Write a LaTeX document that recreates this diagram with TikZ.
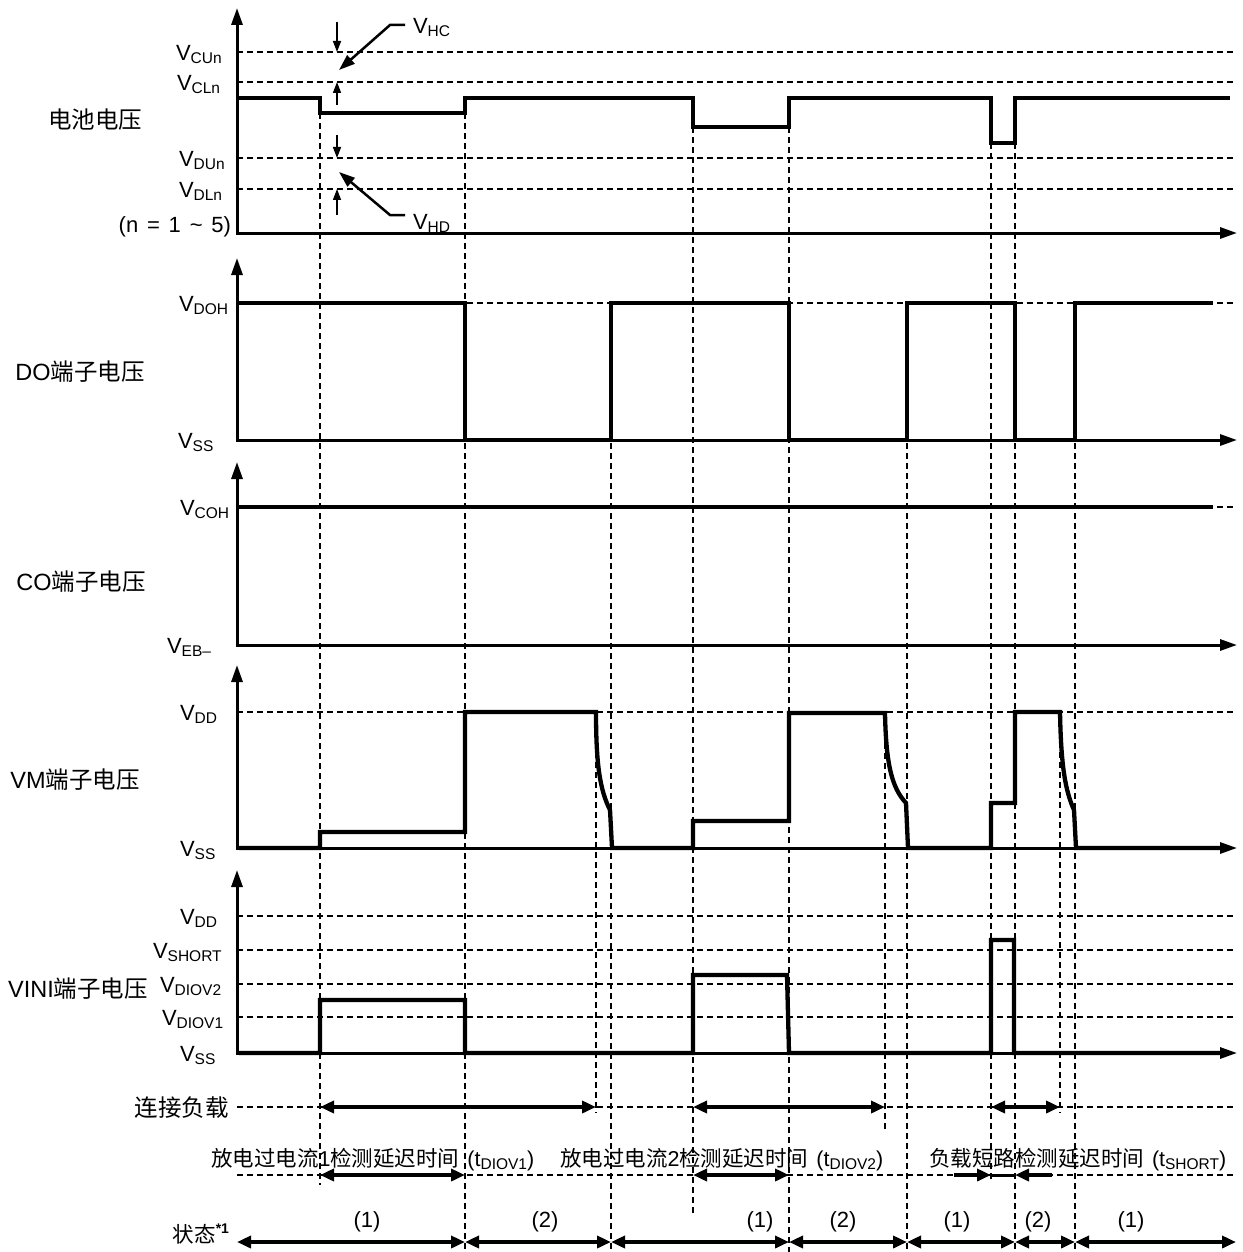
\documentclass[tikz,border=0pt]{standalone}
\usepackage{fontspec}
\setmainfont{Liberation Sans}
\newfontfamily\cjk{Noto Sans CJK SC}
\usetikzlibrary{arrows.meta}
\newcommand\sbs[1]{\raisebox{-3pt}{\fontsize{15.5}{15.5}\selectfont #1}}
\newcommand\cn[1]{{\cjk #1}}
\begin{document}
\begin{tikzpicture}[x=1pt,y=-1pt,
  every node/.style={inner sep=0pt,outer sep=0pt,font=\fontsize{22}{26}\selectfont},
  lbl/.style={font=\fontsize{23.5}{27}\selectfont},
  btm/.style={font=\fontsize{21.5}{25}\selectfont},
  vlab/.style={anchor=base west},
  sig/.style={line width=4.3pt},
  axisline/.style={line width=3pt,{Triangle[length=17pt,width=11pt]}-{Triangle[length=17pt,width=11pt]}},
  dsh/.style={line width=1.6pt,dash pattern=on 6pt off 4pt},
  dbl/.style={line width=4pt,{Triangle[length=14pt,width=12pt]}-{Triangle[length=14pt,width=12pt]}},
  sgl/.style={line width=4pt,-{Triangle[length=14pt,width=12pt]}},
  thinarr/.style={line width=1.5pt,-{Triangle[length=11pt,width=8pt]}},
  leader/.style={line width=2.5pt,-{Triangle[length=16pt,width=11pt]}}
]
\useasboundingbox (0,0) rectangle (1242,1252);

% horizontal dashed levels
\foreach \yy in {52,82,158,189,303,507,712,916,950,984,1017,1107,1175}
  \draw[dsh] (237,\yy) -- (1236,\yy);

% vertical dashed markers
\foreach \xx/\ya/\yb in {320/113/1185,465/113/1252,596/712/1113,611/303/1252,693/127/1213,789/127/1252,885/713/1130,907/303/1252,991/143/1182,1015/143/1252,1060/712/1113,1075/303/1252}
  \draw[dsh] (\xx,\ya) -- (\xx,\yb);

% axes
\draw[axisline] (237,8) -- (237,233) -- (1237,233);
\draw[axisline] (237,258) -- (237,440) -- (1237,440);
\draw[axisline] (237,462) -- (237,645) -- (1237,645);
\draw[axisline] (237,665) -- (237,848) -- (1237,848);
\draw[axisline] (237,870) -- (237,1053) -- (1237,1053);

% signals
\draw[sig] (239,98) -- (320,98) -- (320,113) -- (465,113) -- (465,98) -- (693,98) -- (693,127) -- (789,127) -- (789,98) -- (991,98) -- (991,143) -- (1015,143) -- (1015,98) -- (1230,98);
\draw[sig] (239,303) -- (465,303) -- (465,440) -- (611,440) -- (611,303) -- (789,303) -- (789,440) -- (907,440) -- (907,303) -- (1015,303) -- (1015,440) -- (1075,440) -- (1075,303) -- (1213,303);
\draw[sig] (239,507) -- (1213,507);
\draw[sig] (239,848) -- (320,848) -- (320,832) -- (465,832) -- (465,712) -- (596,712) .. controls (596,765) and (600,790) .. (610,810) -- (612,848) -- (693,848) -- (693,821) -- (789,821) -- (789,713) -- (885,713) .. controls (886,765) and (892,788) .. (906,803) -- (908,848) -- (991,848) -- (991,803) -- (1015,803) -- (1015,712) -- (1060,712) .. controls (1061,765) and (1065,790) .. (1074,810) -- (1076,848) -- (1226,848);
\draw[sig] (239,1053) -- (320,1053) -- (320,1000) -- (465,1000) -- (465,1053) -- (693,1053) -- (693,975) -- (787,975) -- (789,1053) -- (991,1053) -- (991,940) -- (1014,940) -- (1014,1053) -- (1226,1053);

% VHC / VHD
\draw[thinarr] (337,22) -- (337,52);
\draw[thinarr] (337,105) -- (337,82);
\draw[thinarr] (337,135) -- (337,158);
\draw[thinarr] (337,215) -- (337,189);
\draw[leader] (405,25) -- (390,25) -- (339,70);
\draw[leader] (405,215) -- (390,215) -- (339,172);
\node[vlab] (vhc) at (413,34) {V\sbs{HC}};
\node[vlab] (vhd) at (413,229) {V\sbs{HD}};

% level labels
\node[vlab] (vcun) at (176,60.5) {V\sbs{CUn}};
\node[vlab] (vcln) at (177,90.5) {V\sbs{CLn}};
\node[vlab] (vdun) at (179,166.5) {V\sbs{DUn}};
\node[vlab] (vdln) at (179,197.5) {V\sbs{DLn}};
\node[anchor=base east] (nrange) at (231,233) {(n\hspace{0.4em}=\hspace{0.4em}1\hspace{0.4em}\textasciitilde\hspace{0.4em}5)};
\node[vlab] (vdoh) at (179,311.5) {V\sbs{DOH}};
\node[vlab] (vss1) at (178,448.5) {V\sbs{SS}};
\node[vlab] (vcoh) at (180,515.5) {V\sbs{COH}};
\node[vlab] (veb) at (167,653.5) {V\sbs{EB–}};
\node[vlab] (vdd1) at (180,720.5) {V\sbs{DD}};
\node[vlab] (vss2) at (180,856.5) {V\sbs{SS}};
\node[vlab] (vdd2) at (180,924.5) {V\sbs{DD}};
\node[vlab] (vshort) at (153,958.5) {V\sbs{SHORT}};
\node[vlab] (vdiov2) at (160,992.5) {V\sbs{DIOV2}};
\node[vlab] (vdiov1) at (162,1025.5) {V\sbs{DIOV1}};
\node[vlab] (vss3) at (180,1061.5) {V\sbs{SS}};

% panel titles
\node[lbl] (t1) at (95,120) {\cn{电池电压}};
\node[lbl] (t2) at (80,372) {DO\cn{端子电压}};
\node[lbl] (t3) at (81,582) {CO\cn{端子电压}};
\node[lbl] (t4) at (75,780) {VM\cn{端子电压}};
\node[lbl] (t5) at (78,989) {VINI\cn{端子电压}};

% bottom rows
\node[lbl] (load) at (181.5,1108) {\cn{连接负载}};
\draw[dbl] (320,1107) -- (596,1107);
\draw[dbl] (693,1107) -- (885,1107);
\draw[dbl] (991,1107) -- (1060,1107);

\node[btm,anchor=base west] (d1) at (211,1166) {\cn{放电过电流}1\cn{检测延迟时间}\hspace{8pt}(t\sbs{DIOV1})};
\node[btm,anchor=base west] (d2) at (560,1166) {\cn{放电过电流}2\cn{检测延迟时间}\hspace{8pt}(t\sbs{DIOV2})};
\node[btm,anchor=base west] (d3) at (929,1166) {\cn{负载短路检测延迟时间}\hspace{8pt}(t\sbs{SHORT})};
\draw[dbl] (320,1175) -- (465,1175);
\draw[dbl] (693,1175) -- (789,1175);
\draw[sgl] (954,1175) -- (991,1175);
\draw[line width=3pt] (991,1175) -- (1015,1175);
\draw[sgl] (1052,1175) -- (1015,1175);

\node[btm,anchor=base east] (state) at (229,1242) {\cn{状态}\raisebox{9pt}{\fontsize{14}{14}\selectfont\bfseries *1}};
\foreach \xa/\xb in {237/465,465/611,611/789,789/907,907/1015,1015/1075,1075/1236}
  \draw[dbl] (\xa,1242) -- (\xb,1242);
\foreach \xx/\tt/\nm in {367/1/s1,545/2/s2,760/1/s3,843/2/s4,957/1/s5,1038/2/s6,1131/1/s7}
  \node (\nm) at (\xx,1222) {(\tt)};
\end{tikzpicture}
\end{document}
